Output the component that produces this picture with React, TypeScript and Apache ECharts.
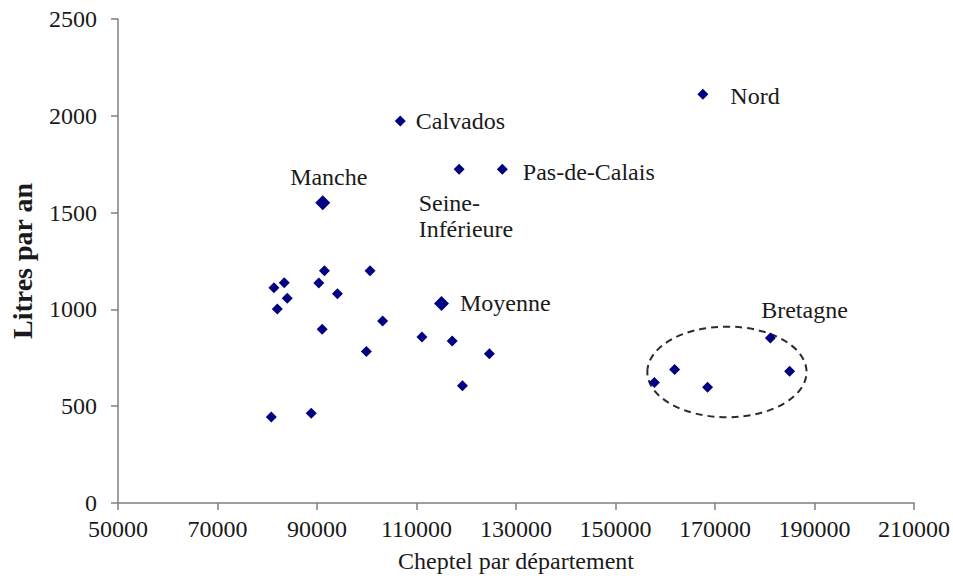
import React, { useEffect, useRef } from "react";
import * as echarts from "echarts";

// Labelled départements
const labelledNames = ["Manche", "Calvados", "Seine-Inférieure", "Pas-de-Calais", "Nord", "Moyenne"];
const labelledCheptel = [91160, 106740, 118570, 127250, 167560, 115020];
const labelledLitres = [1551, 1973, 1724, 1724, 2111, 1031];

// Other départements
const otherCheptel = [
  81340, 83420, 84020, 82020, 91500, 90360, 94110, 100660, 91040, 103190,
  99920, 111090, 117170, 124650, 119230, 80820, 88840,
];
const otherLitres = [
  1112, 1138, 1057, 1002, 1200, 1136, 1081, 1200, 897, 940,
  783, 857, 837, 771, 606, 444, 463,
];

// Bretagne départements
const bretagneCheptel = [181130, 161880, 157810, 168500, 185000];
const bretagneLitres = [852, 690, 623, 598, 680];

// Bretagne ellipse: centre x, centre y, radius x, radius y (data units)
const bretagneZone = [172400, 677, 16000, 234];
const bretagneLabel = "Bretagne";

const xTicks = [50000, 70000, 90000, 110000, 130000, 150000, 170000, 190000, 210000];
const yTicks = [0, 500, 1000, 1500, 2000, 2500];

const xName = "Cheptel par département";
const yName = "Litres par an";

const FONT = "'Liberation Serif', 'Times New Roman', serif";
const TXT = "#1a1a1a";
const MARK = "#000080";

const bigMarkers = ["Manche", "Moyenne"];

const labelPlacement: Record<string, any> = {
  Calvados: { position: "right", distance: 10 },
  "Pas-de-Calais": { position: "right", distance: 15, offset: [0, 3] },
  Nord: { position: "right", distance: 22, offset: [0, 2] },
  Manche: { position: "top", distance: 6, offset: [6, 0] },
  Moyenne: { position: "right", distance: 11 },
  "Seine-Inférieure": { position: [-35, 26], align: "left", verticalAlign: "top", lineHeight: 26 },
};

export default function App() {
  const ref = useRef<HTMLDivElement>(null);

  useEffect(() => {
    if (!ref.current) return;
    const chart = echarts.init(ref.current, null, { renderer: "svg" });

    const labelledData = labelledNames.map((n, i) => ({
      name: n,
      value: [labelledCheptel[i], labelledLitres[i]],
      symbolSize: bigMarkers.includes(n) ? 15 : 11,
      label: {
        show: true,
        formatter: n === "Seine-Inférieure" ? "Seine-\nInférieure" : n,
        color: TXT,
        fontFamily: FONT,
        fontSize: 24,
        ...labelPlacement[n],
      },
    }));

    const otherData = otherCheptel.map((x, i) => [x, otherLitres[i]]);
    const bretagneData = bretagneCheptel.map((x, i) => [x, bretagneLitres[i]]);

    const axisText = { color: TXT, fontFamily: FONT, fontSize: 24 };
    const axisLine = { show: true, lineStyle: { color: "#7f7f7f", width: 1.5 } };
    const markStyle = { color: MARK, opacity: 1 };

    chart.setOption({
      animation: false,
      backgroundColor: "#ffffff",
      grid: { left: 117, right: 38, top: 19, bottom: 77, containLabel: false },
      xAxis: {
        type: "value",
        min: xTicks[0],
        max: xTicks[xTicks.length - 1],
        name: xName,
        nameLocation: "middle",
        nameGap: 46,
        nameTextStyle: { ...axisText },
        axisLine,
        axisTick: { show: true, inside: false, length: 7, customValues: xTicks, lineStyle: { color: "#7f7f7f", width: 1.5 } },
        axisLabel: { ...axisText, margin: 14, customValues: xTicks, formatter: (v: number) => String(v) },
        splitLine: { show: false },
      },
      yAxis: {
        type: "value",
        min: yTicks[0],
        max: yTicks[yTicks.length - 1],
        interval: 500,
        name: yName,
        nameLocation: "middle",
        nameGap: 82,
        nameRotate: 90,
        nameTextStyle: { ...axisText, fontWeight: "bold", fontSize: 28 },
        axisLine,
        axisTick: { show: true, inside: false, length: 7, lineStyle: { color: "#7f7f7f", width: 1.5 } },
        axisLabel: { ...axisText, margin: 21, formatter: (v: number) => String(v) },
        splitLine: { show: false },
      },
      series: [
        {
          type: "custom",
          clip: false,
          silent: true,
          z: 1,
          encode: { x: 0, y: 1 },
          data: [bretagneZone],
          renderItem: (params: any, api: any) => {
            const c = api.coord([api.value(0), api.value(1)]);
            const e = api.coord([api.value(0) + api.value(2), api.value(1) + api.value(3)]);
            const rx = e[0] - c[0];
            const ry = c[1] - e[1];
            return {
              type: "group",
              children: [
                {
                  type: "ellipse",
                  shape: { cx: c[0], cy: c[1], rx, ry },
                  style: { fill: "none", stroke: "#2b2b2b", lineWidth: 2, lineDash: [7, 5] },
                },
                {
                  type: "text",
                  style: {
                    text: bretagneLabel,
                    x: c[0] + rx - 2,
                    y: c[1] - ry - 17,
                    align: "center",
                    verticalAlign: "middle",
                    fontFamily: FONT,
                    fontSize: 24,
                    fill: TXT,
                  },
                },
              ],
            };
          },
        },
        {
          type: "scatter",
          symbol: "diamond",
          symbolSize: 11,
          itemStyle: markStyle,
          z: 3,
          data: otherData,
        },
        {
          type: "scatter",
          symbol: "diamond",
          symbolSize: 11,
          itemStyle: markStyle,
          z: 3,
          data: bretagneData,
        },
        {
          type: "scatter",
          symbol: "diamond",
          itemStyle: markStyle,
          z: 3,
          data: labelledData,
        },
      ],
    });

    return () => chart.dispose();
  }, []);

  return (
    <div
      ref={ref}
      style={{ position: "absolute", left: 0, top: 0, width: 953, height: 580, background: "#fff" }}
    />
  );
}
